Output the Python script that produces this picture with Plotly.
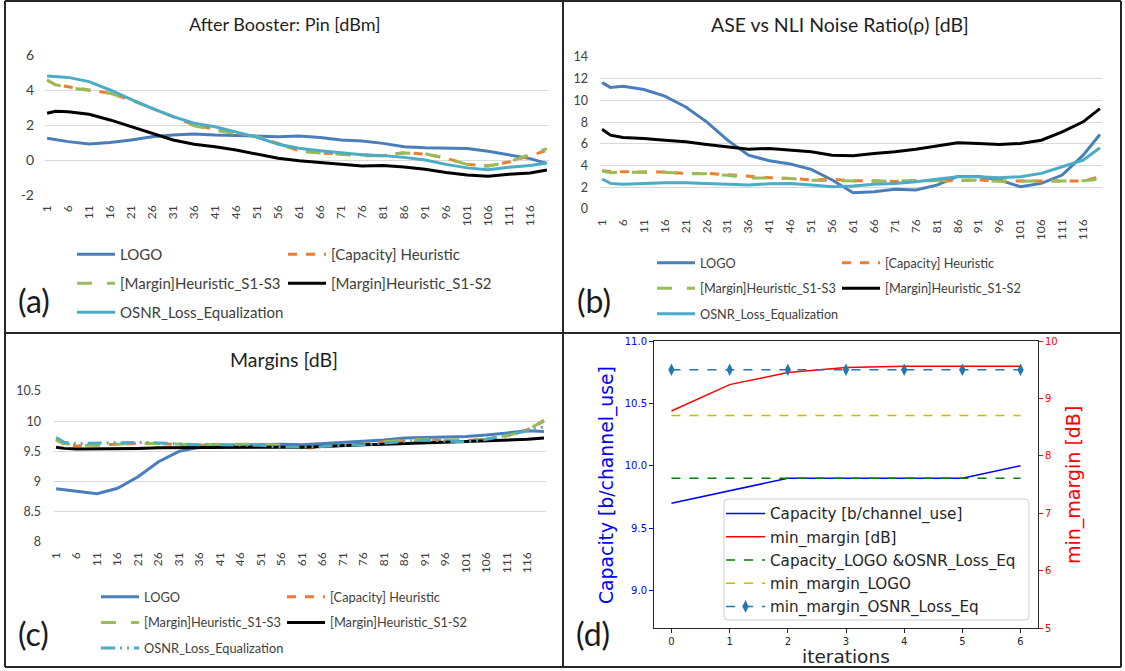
import plotly.graph_objects as go

W, H = 1125, 671
def PX(x): return x / W
def PY(y): return 1 - y / H

# ---------------- data ----------------
CH = [1, 3, 6, 11, 16, 21, 26, 31, 36, 41, 46, 51, 56, 61, 66, 71, 76, 81, 86, 91, 96, 101, 106, 111, 116, 120]
TICKS = list(range(1, 117, 5))

NAMES = ["LOGO", "[Capacity] Heuristic", "[Margin]Heuristic_S1-S3", "[Margin]Heuristic_S1-S2", "OSNR_Loss_Equalization"]

# (a) After Booster: Pin [dBm]
A_LOGO = [1.24, 1.15, 1.05, 0.91, 1.00, 1.14, 1.33, 1.43, 1.49, 1.43, 1.39, 1.33, 1.33, 1.37, 1.28, 1.14, 1.09, 0.95, 0.76, 0.70, 0.68, 0.66, 0.50, 0.30, 0.08, -0.19]
A_CAP = [4.57, 4.30, 4.19, 4.00, 3.81, 3.43, 2.95, 2.48, 2.00, 1.75, 1.52, 1.33, 0.95, 0.53, 0.40, 0.34, 0.29, 0.25, 0.42, 0.34, 0.10, -0.25, -0.33, -0.12, 0.25, 0.55]
A_MS13 = [4.57, 4.30, 4.15, 4.00, 3.81, 3.43, 2.95, 2.48, 1.95, 1.70, 1.50, 1.33, 0.95, 0.50, 0.40, 0.32, 0.25, 0.25, 0.40, 0.36, 0.10, -0.25, -0.36, -0.10, 0.30, 0.65]
A_MS12 = [2.67, 2.78, 2.76, 2.61, 2.29, 1.90, 1.52, 1.14, 0.90, 0.76, 0.57, 0.34, 0.10, -0.04, -0.13, -0.23, -0.34, -0.32, -0.40, -0.53, -0.72, -0.86, -0.93, -0.82, -0.74, -0.57]
A_OSNR = [4.80, 4.78, 4.72, 4.48, 4.00, 3.47, 2.95, 2.48, 2.10, 1.90, 1.62, 1.30, 0.90, 0.67, 0.53, 0.42, 0.30, 0.25, 0.15, 0.00, -0.25, -0.45, -0.55, -0.42, -0.32, -0.17]
A_YTICKS = [-2, 0, 2, 4, 6]

# (b) ASE vs NLI Noise Ratio [dB]
B_LOGO = [11.64, 11.20, 11.30, 11.00, 10.39, 9.40, 8.03, 6.34, 4.96, 4.44, 4.14, 3.65, 2.67, 1.50, 1.59, 1.81, 1.75, 2.20, 3.00, 3.00, 2.67, 2.05, 2.36, 3.13, 4.96, 6.86]
B_CAP = [3.52, 3.45, 3.43, 3.43, 3.40, 3.28, 3.28, 3.16, 3.03, 2.88, 2.82, 2.67, 2.73, 2.60, 2.60, 2.54, 2.60, 2.60, 2.60, 2.67, 2.57, 2.57, 2.57, 2.57, 2.57, 2.97]
B_MS13 = [3.50, 3.35, 3.40, 3.38, 3.38, 3.25, 3.25, 3.10, 2.85, 2.85, 2.80, 2.65, 2.60, 2.55, 2.55, 2.60, 2.62, 2.60, 2.62, 2.65, 2.55, 2.55, 2.60, 2.55, 2.60, 2.75]
B_MS12 = [7.35, 6.80, 6.59, 6.50, 6.34, 6.19, 5.94, 5.73, 5.51, 5.58, 5.42, 5.27, 4.96, 4.90, 5.12, 5.27, 5.51, 5.79, 6.10, 6.04, 5.94, 6.04, 6.34, 7.11, 8.03, 9.25]
B_OSNR = [2.76, 2.36, 2.27, 2.36, 2.42, 2.42, 2.36, 2.27, 2.21, 2.33, 2.36, 2.21, 2.05, 2.11, 2.27, 2.36, 2.51, 2.73, 2.97, 2.97, 2.88, 2.97, 3.28, 3.89, 4.50, 5.64]

# (c) Margins [dB]
C_LOGO = [8.88, 8.86, 8.84, 8.80, 8.89, 9.08, 9.33, 9.50, 9.57, 9.60, 9.61, 9.62, 9.62, 9.61, 9.63, 9.64, 9.66, 9.69, 9.72, 9.73, 9.745, 9.745, 9.77, 9.81, 9.84, 9.83]
C_CAP = [9.69, 9.62, 9.59, 9.61, 9.62, 9.63, 9.63, 9.61, 9.60, 9.61, 9.61, 9.61, 9.60, 9.55, 9.58, 9.60, 9.62, 9.66, 9.68, 9.69, 9.68, 9.68, 9.70, 9.76, 9.86, 10.00]
C_MS13 = [9.70, 9.63, 9.60, 9.60, 9.62, 9.64, 9.63, 9.62, 9.61, 9.62, 9.62, 9.62, 9.60, 9.56, 9.58, 9.60, 9.62, 9.66, 9.68, 9.70, 9.69, 9.69, 9.70, 9.76, 9.85, 10.02]
C_MS12 = [9.57, 9.55, 9.54, 9.54, 9.55, 9.55, 9.56, 9.56, 9.56, 9.57, 9.57, 9.57, 9.57, 9.57, 9.58, 9.60, 9.61, 9.62, 9.63, 9.64, 9.65, 9.66, 9.67, 9.68, 9.70, 9.72]
C_OSNR = [9.73, 9.65, 9.63, 9.64, 9.64, 9.65, 9.64, 9.62, 9.61, 9.61, 9.61, 9.60, 9.57, 9.57, 9.58, 9.60, 9.61, 9.64, 9.67, 9.69, 9.67, 9.66, 9.70, 9.77, 9.84, 9.91]

# (d) iterations
ITER = [0, 1, 2, 3, 4, 5, 6]
D_CAP = [9.7, 9.8, 9.9, 9.9, 9.9, 9.9, 10.0]
D_MINM = [8.78, 9.24, 9.45, 9.54, 9.56, 9.56, 9.56]
D_CAP_LOGO_OSNR = [9.9, 9.9, 9.9, 9.9, 9.9, 9.9, 9.9]
D_MINM_LOGO = [8.7, 8.7, 8.7, 8.7, 8.7, 8.7, 8.7]
D_MINM_OSNR = [9.5, 9.5, 9.5, 9.5, 9.5, 9.5, 9.5]

# ---------------- styles ----------------
XL_FONT = "Lato"
MPL_FONT = "DejaVu Sans"
COL = ["#4A7EBB", "#ED7D31", "#9BBB59", "#000000", "#4BACC6"]
DASH = ["solid", "dash", "longdash", "solid", "solid"]

fig = go.Figure()

panels = [
    ("x", "y", [A_LOGO, A_CAP, A_MS13, A_MS12, A_OSNR], ("legend", "legend2"), "a", DASH),
    ("x2", "y2", [B_LOGO, B_CAP, B_MS13, B_MS12, B_OSNR], ("legend3", "legend4"), "b", DASH),
    ("x3", "y3", [C_LOGO, C_CAP, C_MS13, C_MS12, C_OSNR], ("legend5", "legend6"), "c",
     DASH[:4] + ["14px,5px,2px,5px,2px,5px"]),
]
col_of = [0, 1, 0, 1, 0]
for xa, ya, series, legs, tag, dashes in panels:
    for i, (nm, vals) in enumerate(zip(NAMES, series)):
        fig.add_trace(go.Scatter(
            x=CH, y=vals, name=nm, mode="lines", xaxis=xa, yaxis=ya,
            line=dict(color=COL[i], width=3, dash=dashes[i]),
            legend=legs[col_of[i]], legendgroup=f"{tag}{i}", showlegend=True))

d_specs = [
    ("Capacity [b/channel_use]", D_CAP, "y4", "#0000FF", "solid", None),
    ("min_margin [dB]", D_MINM, "y5", "#FF0000", "solid", None),
    ("Capacity_LOGO &OSNR_Loss_Eq", D_CAP_LOGO_OSNR, "y4", "#008000", "dash", None),
    ("min_margin_LOGO", D_MINM_LOGO, "y5", "#BFBF00", "dash", None),
    ("min_margin_OSNR_Loss_Eq", D_MINM_OSNR, "y5", "#1F77B4", "dash", "diamond-tall"),
]
for k, (nm, vals, ya, c, ds, mk) in enumerate(d_specs):
    fig.add_trace(go.Scatter(
        x=ITER, y=vals, name=nm, xaxis="x4", yaxis=ya,
        mode="lines+markers" if mk else "lines",
        marker=dict(symbol=mk or "circle", size=9, color=c),
        line=dict(color=c, width=1.5, dash=ds),
        legend="legend7", legendgroup=f"d{k}"))

tickfont_xl = dict(family=XL_FONT, size=12, color="#404040")
def xl_xaxis(dom):
    return dict(domain=dom, range=[0.5, 120.5], tickmode="array", tickvals=TICKS,
                ticktext=[str(t) for t in TICKS], tickangle=-90, showgrid=False,
                zeroline=False, showline=False, ticks="", tickfont=tickfont_xl,
                automargin=False, ticklabelstandoff=7)
def xl_yaxis(dom, rng, dt, size, anchor, stand):
    return dict(domain=dom, range=rng, dtick=dt, showgrid=True, gridcolor="#D9D9D9",
                gridwidth=1, zeroline=False, showline=False, ticks="", automargin=False,
                ticklabelstandoff=stand,
                tickfont=dict(family=XL_FONT, size=size, color="#404040"), anchor=anchor)

mpl_tick = dict(family=MPL_FONT, size=10, color="#262626")
ya = xl_yaxis([PY(195), PY(55)], [-2, 6], 2, 14, "x", 10)
ya.update(tickmode="array", tickvals=A_YTICKS, ticktext=[str(v) for v in A_YTICKS])
layout = dict(
    template="none",
    width=W, height=H, margin=dict(l=0, r=0, t=0, b=0, pad=0, autoexpand=False),
    paper_bgcolor="white", plot_bgcolor="white",
    xaxis=xl_xaxis([PX(45), PX(549)]),
    yaxis=ya,
    xaxis2=dict(xl_xaxis([PX(600), PX(1102)]), anchor="y2"),
    yaxis2=xl_yaxis([PY(209), PY(57)], [0, 14], 2, 12.5, "x2", 11),
    xaxis3=dict(xl_xaxis([PX(54), PX(546)]), anchor="y3"),
    yaxis3=xl_yaxis([PY(542), PY(391)], [8, 10.5], 0.5, 12.5, "x3", 12),
    xaxis4=dict(domain=[PX(654), PX(1038)], range=[-0.3, 6.3], tickvals=ITER, automargin=False,
                ticks="outside", ticklen=4, tickcolor="#262626", showline=True, mirror=True,
                linecolor="#262626", linewidth=1, showgrid=False, zeroline=False,
                tickfont=mpl_tick, anchor="y4"),
    yaxis4=dict(domain=[PY(628), PY(341)], range=[8.7, 11.0], tickvals=[9.0, 9.5, 10.0, 10.5, 11.0],
                tickformat=".1f", ticks="outside", ticklen=4, tickcolor="#0000FF", automargin=False,
                showline=True, linecolor="#262626", linewidth=1, showgrid=False, zeroline=False,
                tickfont=dict(family=MPL_FONT, size=10, color="#0000FF"), anchor="x4"),
    yaxis5=dict(overlaying="y4", side="right", anchor="x4", range=[5, 10], dtick=1, automargin=False,
                ticks="outside", ticklen=4, tickcolor="#FF0000", showline=True,
                linecolor="#262626", linewidth=1, showgrid=False, zeroline=False,
                tickfont=dict(family=MPL_FONT, size=10, color="#FF0000")),
    showlegend=True,
)

def leg(x, y, size, gap, iw, fam=XL_FONT, color="#404040"):
    return dict(x=PX(x), y=PY(y), xanchor="left", yanchor="top", orientation="v",
                bgcolor="rgba(0,0,0,0)", borderwidth=0, tracegroupgap=gap,
                font=dict(family=fam, size=size, color=color), itemwidth=iw)

layout["legend"] = leg(72, 238, 15, 6.5, 38)
layout["legend2"] = leg(283, 238, 15, 6.5, 38)
layout["legend3"] = leg(652, 248, 12.7, 6, 38)
layout["legend4"] = leg(837, 248, 12.7, 6, 38)
layout["legend5"] = leg(96, 582, 12.8, 6, 38)
layout["legend6"] = leg(282, 582, 12.8, 6, 38)
layout["legend7"] = leg(721, 497, 15.2, 0.5, 39, MPL_FONT, "#262626")

fig.update_layout(**layout)

# titles and labels
ann = []
def A(text, x, y, size, fam=XL_FONT, color="#404040", angle=0, **kw):
    ann.append(dict(text=text, x=PX(x), y=PY(y), xref="paper", yref="paper", showarrow=False,
                    font=dict(family=fam, size=size, color=color), textangle=angle,
                    xanchor="center", yanchor="middle", **kw))
A("After Booster: Pin [dBm]", 284, 24, 18, color="#1f1f1f")
A("ASE vs NLI Noise Ratio(ρ) [dB]", 840, 25, 19.5, color="#1f1f1f")
A("Margins [dB]", 284, 359, 19.5, color="#1f1f1f")
A("Capacity [b/channel_use]", 607, 485, 18.8, fam=MPL_FONT, color="#0000FF", angle=-90)
A("min_margin [dB]", 1073, 485, 19, fam=MPL_FONT, color="#FF0000", angle=-90)
A("iterations", 846, 656, 18.5, fam=MPL_FONT, color="#262626")
for t, x, y in [("(a)", 34, 301), ("(b)", 594, 301), ("(c)", 33, 633), ("(d)", 593, 633)]:
    A(t, x, y, 32, color="#1a1a1a")
fig.update_layout(annotations=ann)

# panel frames and d-legend box
shapes = []
def L(x0, y0, x1, y1, w=2):
    shapes.append(dict(type="line", xref="paper", yref="paper", x0=PX(x0), y0=PY(y0),
                       x1=PX(x1), y1=PY(y1), line=dict(color="#262626", width=w)))
L(5, 1, 1121, 1); L(5, 667, 1121, 667); L(5, 1, 5, 667); L(1121, 1, 1121, 667)
L(563, 1, 563, 667); L(5, 333, 1121, 333)
x0, x1, y0, y1, r = PX(724), PX(1029), PY(620), PY(499), 4
rx, ry = r / W, r / H
path = (f"M {x0+rx},{y1} L {x1-rx},{y1} Q {x1},{y1} {x1},{y1-ry} L {x1},{y0+ry} Q {x1},{y0} {x1-rx},{y0} "
        f"L {x0+rx},{y0} Q {x0},{y0} {x0},{y0+ry} L {x0},{y1-ry} Q {x0},{y1} {x0+rx},{y1} Z")
shapes.append(dict(type="path", xref="paper", yref="paper", path=path,
                   line=dict(color="#D0D0D0", width=1), fillcolor="rgba(255,255,255,0.8)", layer="above"))
fig.update_layout(shapes=shapes)

fig.write_html("out.html", config={"displayModeBar": False},
               post_script="document.body.style.margin='0px';")
